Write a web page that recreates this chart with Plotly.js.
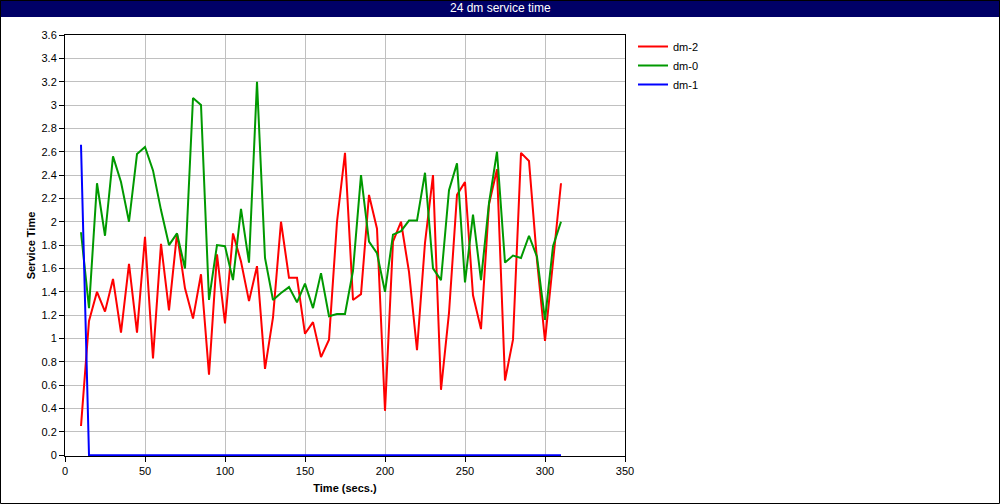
<!DOCTYPE html>
<html>
<head>
<meta charset="utf-8">
<script src="https://cdn.plot.ly/plotly-3.0.1.min.js"></script>
<style>
  html, body { margin: 0; padding: 0; background: #ffffff; }
  #chart { width: 1000px; height: 504px; }
</style>
</head>
<body>
<div id="chart"></div>
<script>
const times = [10,15,20,25,30,35,40,45,50,55,60,65,70,75,80,85,90,95,100,105,110,115,120,125,130,135,140,145,150,155,160,165,170,175,180,185,190,195,200,205,210,215,220,225,230,235,240,245,250,255,260,265,270,275,280,285,290,295,300,305,310];

const dm2 = [0.25,1.15,1.4,1.23,1.51,1.05,1.64,1.05,1.87,0.83,1.81,1.24,1.9,1.43,1.17,1.55,0.69,1.72,1.13,1.9,1.66,1.32,1.62,0.74,1.18,2.0,1.52,1.52,1.04,1.14,0.84,0.99,2.0,2.59,1.33,1.38,2.23,1.94,0.38,1.83,2.0,1.57,0.9,1.82,2.4,0.56,1.22,2.23,2.34,1.37,1.08,2.15,2.45,0.64,0.99,2.59,2.52,1.67,0.98,1.65,2.33];

const dm0 = [1.91,1.26,2.33,1.88,2.56,2.34,2.0,2.58,2.64,2.44,2.1,1.8,1.9,1.6,3.06,3.0,1.33,1.8,1.79,1.5,2.11,1.65,3.2,1.69,1.33,1.39,1.44,1.31,1.47,1.26,1.56,1.19,1.21,1.21,1.58,2.4,1.83,1.73,1.4,1.89,1.92,2.01,2.01,2.42,1.6,1.5,2.27,2.5,1.48,2.06,1.5,2.16,2.6,1.65,1.71,1.69,1.88,1.7,1.16,1.79,2.0];

const dm1 = [2.66,0,0,0,0,0,0,0,0,0,0,0,0,0,0,0,0,0,0,0,0,0,0,0,0,0,0,0,0,0,0,0,0,0,0,0,0,0,0,0,0,0,0,0,0,0,0,0,0,0,0,0,0,0,0,0,0,0,0,0,0];

const seriesNames = ["dm-2", "dm-0", "dm-1"];
const seriesColors = ["#ff0000", "#009900", "#0000ff"];
const seriesValues = [dm2, dm0, dm1];

const chartTitle = "24 dm service time";
const xTitle = "Time (secs.)";
const yTitle = "Service Time";

const traces = seriesNames.map((name, i) => ({
  type: "scatter",
  mode: "lines",
  name: name,
  x: times,
  y: seriesValues[i],
  line: { color: seriesColors[i], width: 2 },
  cliponaxis: false,
  hoverinfo: "x+y+name"
}));

const W = 1000, H = 504;
const m = { l: 65, r: 375, t: 35, b: 48 };
const pw = W - m.l - m.r, ph = H - m.t - m.b;
const px = v => (v - m.l) / pw;
const py = v => 1 - (v - m.t) / ph;

const font = "Liberation Sans, Arial, sans-serif";

const layout = {
  width: W,
  height: H,
  margin: m,
  paper_bgcolor: "#ffffff",
  plot_bgcolor: "#ffffff",
  font: { family: font, size: 11, color: "#000000" },
  showlegend: true,
  legend: {
    x: px(633), y: py(32), xanchor: "left", yanchor: "top",
    font: { family: font, size: 11, color: "#000000" },
    bgcolor: "rgba(0,0,0,0)",
    tracegroupgap: 0,
    itemwidth: 30
  },
  xaxis: {
    range: [0, 350],
    tickmode: "linear", tick0: 0, dtick: 50,
    showgrid: true, gridcolor: "#c0c0c0", gridwidth: 1,
    zeroline: false,
    showline: true, linecolor: "#000000", linewidth: 1, mirror: true,
    layer: "below traces",
    ticks: "outside", ticklen: 5, tickcolor: "#000000",
    tickfont: { family: font, size: 11 },
    title: { text: "<b>" + xTitle + "</b>", font: { family: font, size: 11 }, standoff: 8 }
  },
  yaxis: {
    range: [-0.007, 3.6],
    tickmode: "linear", tick0: 0, dtick: 0.2,
    showgrid: true, gridcolor: "#c0c0c0", gridwidth: 1,
    zeroline: false,
    showline: true, linecolor: "#000000", linewidth: 1, mirror: true,
    layer: "below traces",
    ticks: "outside", ticklen: 5, tickcolor: "#000000",
    tickfont: { family: font, size: 11 },
    title: { text: "<b>" + yTitle + "</b>", font: { family: font, size: 11 }, standoff: 3 }
  },
  shapes: [
    { type: "rect", xref: "paper", yref: "paper",
      x0: px(0), x1: px(1000), y0: py(17), y1: py(0),
      fillcolor: "#000066", line: { width: 0 }, layer: "above" },
    { type: "rect", xref: "paper", yref: "paper",
      x0: px(0.5), x1: px(999.5), y0: py(503.5), y1: py(0.5),
      fillcolor: "rgba(0,0,0,0)", line: { color: "#000000", width: 1 }, layer: "above" }
  ],
  annotations: [
    { xref: "paper", yref: "paper", x: px(500), y: py(8.5),
      xanchor: "center", yanchor: "middle", showarrow: false,
      text: chartTitle, font: { family: font, size: 12, color: "#ffffff" } }
  ]
};

Plotly.newPlot("chart", traces, layout, { displayModeBar: false, staticPlot: true });
</script>
</body>
</html>
